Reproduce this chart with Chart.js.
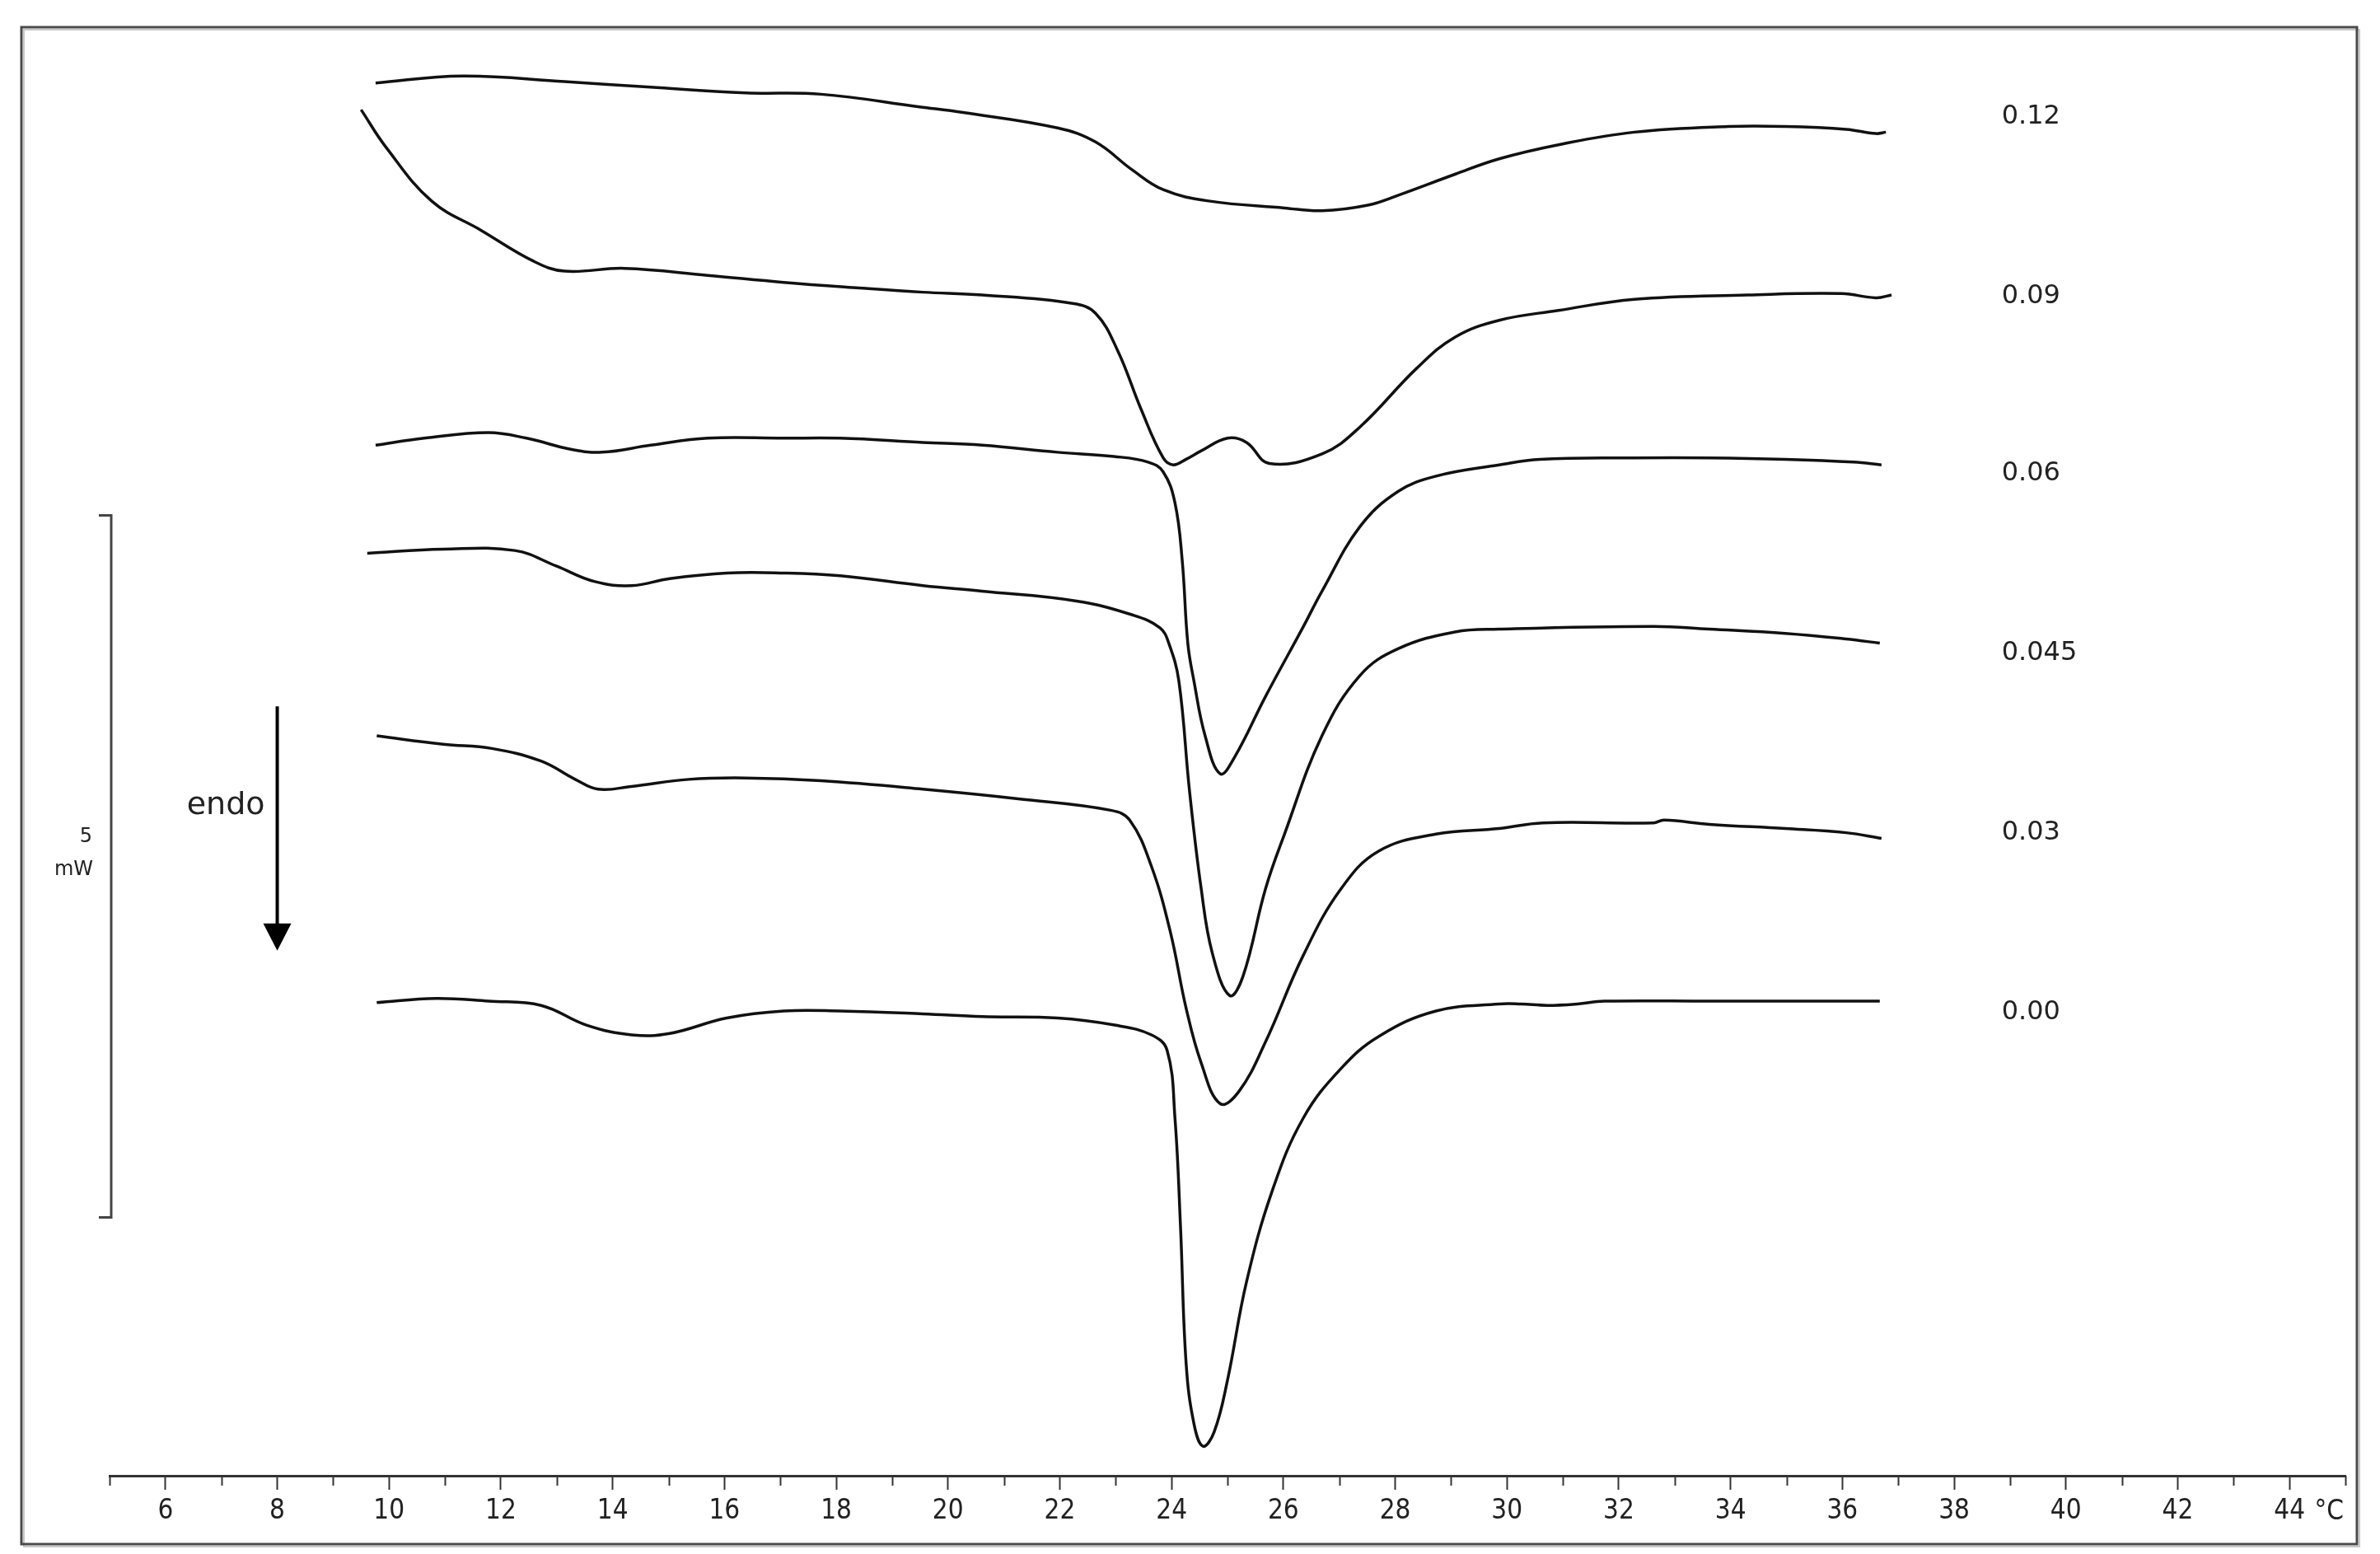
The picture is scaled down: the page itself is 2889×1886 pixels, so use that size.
<!DOCTYPE html>
<html>
<head>
<meta charset="utf-8">
<script src="https://cdn.jsdelivr.net/npm/chart.js@4.4.1/dist/chart.umd.min.js"></script>
<style>
  html, body { margin: 0; padding: 0; background: #fff; }
  canvas { display: block; }
</style>
</head>
<body>
<canvas id="dsc" width="2889" height="1886"></canvas>
<script>
    // curve names, top to bottom
    const curveLabels = ['0.12', '0.09', '0.06', '0.045', '0.03', '0.00'];
    // where the names sit, in mW on the (offset) trace axis
    const labelLevels = [9.68, 8.40, 7.14, 5.86, 4.58, 3.30];

    // traces: temperature (°C) and heat flow (mW, offset per curve)
    const t012 = [9.76, 11.31, 13.14, 14.68, 16.38, 17.73, 19.49, 20.27, 21.96, 22.64, 23.30, 23.85, 24.66, 26.02, 26.69, 27.51, 28.05, 29.07, 29.86, 30.92, 32.28, 33.96, 34.98, 36.07, 36.60, 36.78];
    const y012 = [9.92, 9.97, 9.93, 9.89, 9.85, 9.84, 9.75, 9.71, 9.60, 9.50, 9.30, 9.16, 9.08, 9.03, 9.01, 9.05, 9.12, 9.27, 9.38, 9.48, 9.57, 9.61, 9.61, 9.59, 9.56, 9.57];

    const t009 = [9.50, 9.95, 10.76, 11.65, 12.59, 13.14, 14.21, 15.70, 17.06, 18.41, 19.55, 20.61, 22.23, 22.64, 23.04, 23.45, 23.85, 24.03, 24.26, 24.53, 25.00, 25.34, 25.75, 26.70, 27.37, 28.39, 29.07, 29.86, 30.92, 32.28, 34.30, 35.99, 36.60, 36.88];
    const y009 = [9.73, 9.46, 9.08, 8.87, 8.65, 8.58, 8.60, 8.55, 8.50, 8.46, 8.43, 8.41, 8.35, 8.28, 8.01, 7.60, 7.25, 7.20, 7.24, 7.30, 7.39, 7.36, 7.21, 7.28, 7.47, 7.89, 8.11, 8.23, 8.30, 8.38, 8.41, 8.42, 8.39, 8.41];

    const t006 = [9.76, 10.63, 11.78, 12.46, 13.27, 13.81, 14.68, 15.70, 17.06, 18.07, 19.55, 20.61, 21.96, 22.97, 23.58, 23.85, 24.06, 24.19, 24.29, 24.40, 24.60, 24.87, 25.13, 25.68, 26.36, 26.69, 27.37, 28.05, 28.73, 29.86, 30.59, 32.28, 33.62, 34.98, 36.20, 36.70];
    const y006 = [7.34, 7.39, 7.43, 7.39, 7.31, 7.29, 7.34, 7.39, 7.39, 7.39, 7.36, 7.34, 7.29, 7.26, 7.22, 7.15, 6.93, 6.52, 5.93, 5.66, 5.27, 5.00, 5.12, 5.55, 6.05, 6.30, 6.76, 7.01, 7.12, 7.20, 7.24, 7.25, 7.25, 7.24, 7.22, 7.20];

    const t0045 = [9.61, 10.97, 12.25, 12.99, 13.67, 14.34, 15.02, 16.04, 17.06, 18.07, 19.55, 20.61, 22.30, 23.31, 23.79, 23.95, 24.13, 24.32, 24.53, 24.73, 25.04, 25.28, 25.68, 26.02, 26.69, 27.37, 28.05, 29.07, 29.86, 32.62, 33.62, 34.98, 36.07, 36.67];
    const y0045 = [6.57, 6.60, 6.59, 6.48, 6.37, 6.34, 6.39, 6.43, 6.43, 6.41, 6.34, 6.30, 6.23, 6.13, 6.04, 5.93, 5.66, 4.88, 4.18, 3.72, 3.42, 3.56, 4.18, 4.57, 5.27, 5.70, 5.89, 6.01, 6.03, 6.05, 6.03, 6.00, 5.96, 5.93];

    const t003 = [9.78, 10.97, 11.84, 12.72, 13.33, 13.74, 14.34, 15.36, 16.38, 17.73, 19.55, 21.29, 22.91, 23.25, 23.64, 23.98, 24.26, 24.53, 24.87, 25.21, 25.68, 26.36, 27.03, 27.71, 28.73, 29.86, 30.64, 32.62, 32.81, 33.62, 34.98, 36.07, 36.70];
    const y003 = [5.27, 5.21, 5.18, 5.09, 4.96, 4.89, 4.91, 4.96, 4.97, 4.95, 4.89, 4.82, 4.74, 4.67, 4.34, 3.87, 3.33, 2.94, 2.65, 2.74, 3.09, 3.71, 4.18, 4.45, 4.57, 4.61, 4.65, 4.65, 4.67, 4.64, 4.61, 4.58, 4.54];

    const t000 = [9.78, 10.84, 11.78, 12.72, 13.53, 14.34, 15.02, 16.04, 17.06, 18.07, 19.55, 20.61, 21.96, 22.98, 23.64, 23.92, 24.06, 24.16, 24.26, 24.40, 24.56, 24.76, 25.00, 25.34, 25.81, 26.36, 27.03, 27.71, 28.73, 29.86, 30.25, 30.72, 31.26, 31.74, 33.62, 36.67];
    const y000 = [3.37, 3.40, 3.38, 3.35, 3.21, 3.14, 3.15, 3.26, 3.31, 3.31, 3.29, 3.27, 3.26, 3.21, 3.14, 3.03, 2.55, 1.77, 0.80, 0.37, 0.21, 0.31, 0.68, 1.38, 2.04, 2.55, 2.90, 3.13, 3.31, 3.36, 3.36, 3.35, 3.36, 3.38, 3.38, 3.38];

    const traceT = [t012, t009, t006, t0045, t003, t000];
    const traceY = [y012, y009, y006, y0045, y003, y000];

    const tempMin = 5;
    const tempMax = 45;
    const scaleBar = [1.84, 6.84]; // 5 mW bracket
    const arrowFromTo = [5.48, 3.74];

    const tickFont = "'Liberation Sans Narrow', 'DejaVu Sans Condensed', 'Arial Narrow', sans-serif";
    const textFont = "'DejaVu Sans', Verdana, sans-serif";

    function buildDatasets() {
        return curveLabels.map((name, i) => ({
            label: name,
            data: traceT[i].map((t, j) => ({ x: t, y: traceY[i][j] })),
            borderColor: '#111',
            borderWidth: 3.5,
            pointRadius: 0,
            fill: false,
            tension: 0.4
        }));
    }

    const annotations = {
        id: 'annotations',
        afterDraw(chart) {
            const { ctx, scales } = chart;
            const x = scales.x;
            const y = scales.y;
            const axisY = chart.chartArea.bottom;

            ctx.save();

            // outer frame with a faint shadow
            ctx.strokeStyle = '#c8c8c8';
            ctx.lineWidth = 2;
            ctx.strokeRect(29, 36, 2835, 1841);
            ctx.strokeStyle = '#4a4a4a';
            ctx.lineWidth = 3;
            ctx.strokeRect(26, 33, 2835, 1841);

            // short ticks on odd degrees
            ctx.strokeStyle = '#333';
            ctx.lineWidth = 2;
            for (let t = tempMin; t <= tempMax; t++) {
                if (t % 2 === 0) continue;
                const px = Math.round(x.getPixelForValue(t)) + 0.5;
                ctx.beginPath();
                ctx.moveTo(px, axisY);
                ctx.lineTo(px, axisY + 12);
                ctx.stroke();
            }

            // unit at the end of the axis
            ctx.fillStyle = '#222';
            ctx.font = '33px ' + tickFont;
            ctx.textAlign = 'right';
            ctx.textBaseline = 'middle';
            ctx.fillText('°C', x.getPixelForValue(tempMax) - 2, axisY + 44);

            // 5 mW bracket
            const bx = x.getPixelForValue(tempMin) + 2;
            const bTop = y.getPixelForValue(scaleBar[1]);
            const bBot = y.getPixelForValue(scaleBar[0]);
            ctx.strokeStyle = '#444';
            ctx.lineWidth = 3;
            ctx.beginPath();
            ctx.moveTo(bx - 15, bTop);
            ctx.lineTo(bx, bTop);
            ctx.lineTo(bx, bBot);
            ctx.lineTo(bx - 15, bBot);
            ctx.stroke();

            const bMid = (bTop + bBot) / 2;
            ctx.fillStyle = '#222';
            ctx.font = '24px ' + textFont;
            ctx.textAlign = 'right';
            ctx.fillText('5', bx - 23, bMid - 36);
            ctx.fillText('mW', bx - 22, bMid + 4);

            // endo arrow
            const ax = x.getPixelForValue(8);
            const aTop = y.getPixelForValue(arrowFromTo[0]);
            const aTip = y.getPixelForValue(arrowFromTo[1]);
            ctx.strokeStyle = '#000';
            ctx.lineWidth = 4;
            ctx.beginPath();
            ctx.moveTo(ax, aTop);
            ctx.lineTo(ax, aTip - 30);
            ctx.stroke();
            ctx.fillStyle = '#000';
            ctx.beginPath();
            ctx.moveTo(ax - 17, aTip - 33);
            ctx.lineTo(ax + 17, aTip - 33);
            ctx.lineTo(ax, aTip);
            ctx.closePath();
            ctx.fill();

            ctx.fillStyle = '#222';
            ctx.font = '38px ' + textFont;
            ctx.textAlign = 'right';
            ctx.fillText('endo', ax - 15, y.getPixelForValue(4.77));

            // curve names on the right
            ctx.font = '32px ' + textFont;
            ctx.textAlign = 'left';
            const lx = x.getPixelForValue(38.85);
            curveLabels.forEach((name, i) => {
                ctx.fillText(name, lx, y.getPixelForValue(labelLevels[i]));
            });

            ctx.restore();
        }
    };

    const canvas = document.getElementById('dsc');

    new Chart(canvas, {
        type: 'line',
        data: { datasets: buildDatasets() },
        options: {
            responsive: false,
            animation: false,
            devicePixelRatio: 1,
            layout: {
                padding: { left: 133, right: 42, top: 36, bottom: 0 }
            },
            plugins: {
                legend: { display: false },
                tooltip: { enabled: false },
                title: { display: false }
            },
            scales: {
                x: {
                    type: 'linear',
                    min: tempMin,
                    max: tempMax,
                    afterFit: (scale) => { scale.height = 95; },
                    border: { display: true, color: '#333', width: 3 },
                    grid: {
                        display: true,
                        drawOnChartArea: false,
                        drawTicks: true,
                        tickLength: 17,
                        tickWidth: 2,
                        tickColor: (ctx) => (ctx.tick && ctx.tick.value % 2 === 0) ? '#333' : 'rgba(0,0,0,0)'
                    },
                    ticks: {
                        stepSize: 1,
                        autoSkip: false,
                        maxRotation: 0,
                        padding: 7,
                        color: '#222',
                        font: { family: tickFont, size: 33 },
                        callback: (value) => (value % 2 === 0 && value > tempMin && value < tempMax) ? String(value) : ''
                    }
                },
                y: {
                    type: 'linear',
                    display: false,
                    min: 0,
                    max: 10.3
                }
            }
        },
        plugins: [annotations]
    });
</script>
</body>
</html>
